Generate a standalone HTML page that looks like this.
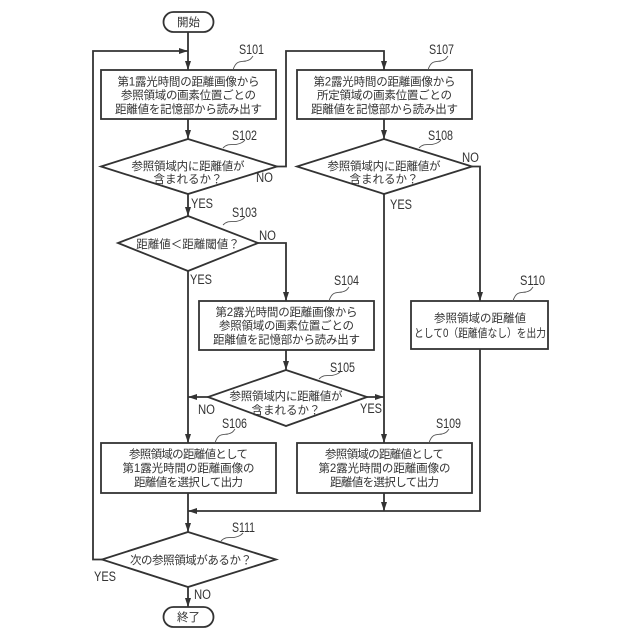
<!DOCTYPE html>
<html><head><meta charset="utf-8"><style>
html,body{margin:0;padding:0;background:#fff}
svg{display:block}
text{font-family:"Liberation Sans","Noto Sans CJK JP",sans-serif;fill:#333}
.j{font-size:11.5px;text-anchor:middle}
.l{font-size:13.5px}
.s{stroke:#333;stroke-width:1.8;fill:none}
.t{stroke:#555;stroke-width:.9;fill:none}
.a{fill:#333;stroke:none}
</style></head><body>
<svg width="640" height="640" viewBox="0 0 640 640" xmlns="http://www.w3.org/2000/svg">
<rect x="163.500" y="12" width="50" height="20" rx="10" class="s"/>
<rect x="163.500" y="607" width="50" height="20" rx="10" class="s"/>
<rect x="101" y="70" width="175" height="49" class="s"/>
<rect x="297" y="70" width="175" height="49" class="s"/>
<rect x="199" y="301" width="175" height="49" class="s"/>
<rect x="411" y="301" width="137" height="48" class="s"/>
<rect x="101" y="443" width="175" height="50" class="s"/>
<rect x="297" y="443" width="175" height="50" class="s"/>
<polygon points="188,139 277,166.500 188,194 101,166.500" class="s"/>
<polygon points="384,139 472,166.500 384,194 297,166.500" class="s"/>
<polygon points="188,216 258,243 188,271 118,243" class="s"/>
<polygon points="286,370 367,397 286,426 208,397" class="s"/>
<polygon points="188,532 276,559.500 188,587 102,559.500" class="s"/>
<path class="s" d="M188 32V70M188 119V139M188 194V216M188 271V443M188 493V532M188 587V607"/>
<path class="s" d="M102 559.500H93V51H188"/>
<path class="s" d="M277 166.500H286V51H384V70M384 119V139M384 194V443M384 493V511"/>
<path class="s" d="M472 166.500H480V301M480 349V511H188"/>
<path class="s" d="M258 243H286V301M286 350V370M208 397H188M367 397H384"/>
<g class="a">
<polygon points="188,70 185,61 191,61"/>
<polygon points="188,51 179,48 179,54"/>
<polygon points="188,139 185,130 191,130"/>
<polygon points="188,216 185,207 191,207"/>
<polygon points="188,443 185,434 191,434"/>
<polygon points="188,532 185,523 191,523"/>
<polygon points="188,607 185,598 191,598"/>
<polygon points="188,511 197,508 197,514"/>
<polygon points="384,70 381,61 387,61"/>
<polygon points="384,139 381,130 387,130"/>
<polygon points="384,443 381,434 387,434"/>
<polygon points="384,511 381,502 387,502"/>
<polygon points="480,301 477,292 483,292"/>
<polygon points="286,301 283,292 289,292"/>
<polygon points="286,370 283,361 289,361"/>
<polygon points="188,397 197,394 197,400"/>
<polygon points="384,397 375,394 375,400"/>
</g>
<g class="t">
<path d="M233 70C236 60 241 62 246 61C250 60 251 59 253 56"/>
<path d="M223 148C229 142 233 146 238 144C242 143 243 142 245 140"/>
<path d="M223 225C229 219 233 223 238 221C242 220 243 219 245 217"/>
<path d="M428 70C431 60 436 62 441 61C445 60 446 59 448 56"/>
<path d="M419 148C425 142 429 146 434 144C438 143 439 142 441 140"/>
<path d="M329 301C332 291 337 293 342 292C346 291 347 290 349 287"/>
<path d="M319 379C325 373 329 377 334 375C338 374 339 373 341 371"/>
<path d="M215 443C218 433 223 435 228 434C232 433 233 432 235 429"/>
<path d="M429 443C432 433 437 435 442 434C446 433 447 432 449 429"/>
<path d="M513 301C516 291 521 293 526 292C530 291 531 290 533 287"/>
<path d="M221 541C227 535 231 539 236 537C240 536 241 535 243 533"/>
</g>
<g class="j">
<text x="188.500" y="26">開始</text>
<text x="188.500" y="621">終了</text>
<text x="188.500" y="85.500" textLength="142">第1露光時間の距離画像から</text>
<text x="188.500" y="99" textLength="135">参照領域の画素位置ごとの</text>
<text x="188.500" y="113" textLength="147">距離値を記憶部から読み出す</text>
<text x="384.500" y="85.500" textLength="142">第2露光時間の距離画像から</text>
<text x="384.500" y="99" textLength="135">所定領域の画素位置ごとの</text>
<text x="384.500" y="113" textLength="147">距離値を記憶部から読み出す</text>
<text x="188" y="170" textLength="113">参照領域内に距離値が</text>
<text x="188" y="183">含まれるか？</text>
<text x="384" y="170" textLength="113">参照領域内に距離値が</text>
<text x="384" y="183">含まれるか？</text>
<text x="188" y="248">距離値＜距離閾値？</text>
<text x="286.500" y="316" textLength="142">第2露光時間の距離画像から</text>
<text x="286.500" y="329.500" textLength="135">参照領域の画素位置ごとの</text>
<text x="286.500" y="343.500" textLength="147">距離値を記憶部から読み出す</text>
<text x="286" y="400" textLength="113">参照領域内に距離値が</text>
<text x="286" y="414">含まれるか？</text>
<text x="480" y="322" textLength="92">参照領域の距離値</text>
<text x="480" y="337" textLength="132" lengthAdjust="spacingAndGlyphs">として0（距離値なし）を出力</text>
<text x="188.500" y="458" textLength="119">参照領域の距離値として</text>
<text x="188.500" y="472" textLength="132">第1露光時間の距離画像の</text>
<text x="188.500" y="486" textLength="109">距離値を選択して出力</text>
<text x="384.500" y="458" textLength="119">参照領域の距離値として</text>
<text x="384.500" y="472" textLength="132">第2露光時間の距離画像の</text>
<text x="384.500" y="486" textLength="109">距離値を選択して出力</text>
<text x="191" y="564" textLength="122">次の参照領域があるか？</text>
</g>
<g class="l">
<text x="239" y="54" textLength="25" lengthAdjust="spacingAndGlyphs">S101</text>
<text x="232" y="140" textLength="25" lengthAdjust="spacingAndGlyphs">S102</text>
<text x="232" y="217" textLength="25" lengthAdjust="spacingAndGlyphs">S103</text>
<text x="334" y="285" textLength="25" lengthAdjust="spacingAndGlyphs">S104</text>
<text x="330" y="372" textLength="25" lengthAdjust="spacingAndGlyphs">S105</text>
<text x="222" y="428" textLength="25" lengthAdjust="spacingAndGlyphs">S106</text>
<text x="429" y="54" textLength="25" lengthAdjust="spacingAndGlyphs">S107</text>
<text x="428" y="140" textLength="25" lengthAdjust="spacingAndGlyphs">S108</text>
<text x="436" y="428" textLength="25" lengthAdjust="spacingAndGlyphs">S109</text>
<text x="520" y="285" textLength="25" lengthAdjust="spacingAndGlyphs">S110</text>
<text x="232" y="532" textLength="23" lengthAdjust="spacingAndGlyphs">S111</text>
<text x="256" y="182" textLength="17" lengthAdjust="spacingAndGlyphs">NO</text>
<text x="191" y="208" textLength="22" lengthAdjust="spacingAndGlyphs">YES</text>
<text x="259" y="240" textLength="17" lengthAdjust="spacingAndGlyphs">NO</text>
<text x="190" y="284" textLength="22" lengthAdjust="spacingAndGlyphs">YES</text>
<text x="198" y="414" textLength="17" lengthAdjust="spacingAndGlyphs">NO</text>
<text x="360" y="413" textLength="22" lengthAdjust="spacingAndGlyphs">YES</text>
<text x="462" y="162" textLength="17" lengthAdjust="spacingAndGlyphs">NO</text>
<text x="390" y="209" textLength="22" lengthAdjust="spacingAndGlyphs">YES</text>
<text x="94" y="581" textLength="22" lengthAdjust="spacingAndGlyphs">YES</text>
<text x="194" y="599" textLength="17" lengthAdjust="spacingAndGlyphs">NO</text>
</g>
</svg>
</body></html>
